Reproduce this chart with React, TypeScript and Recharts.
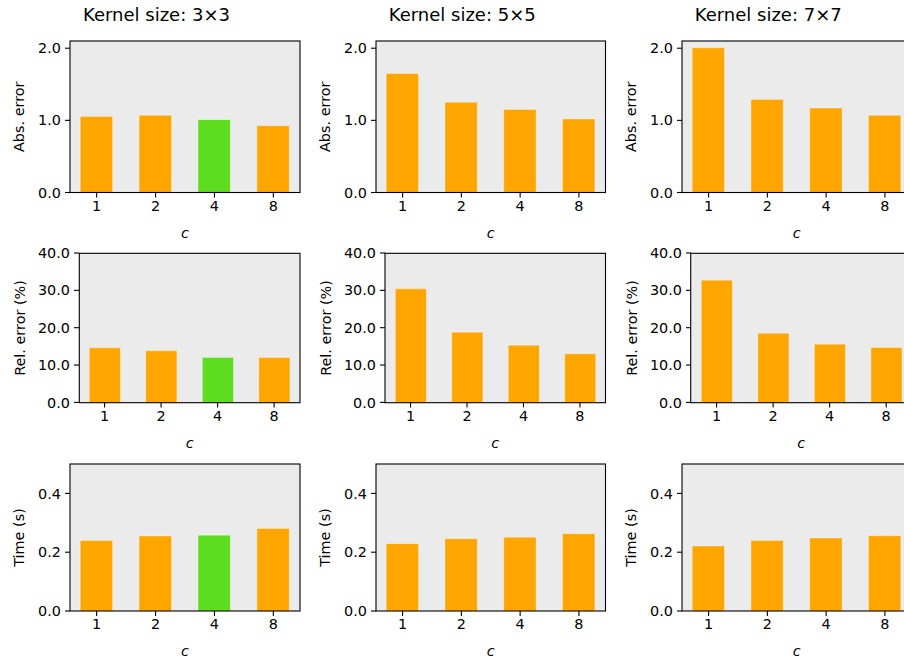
import React from 'react';
import { BarChart, Bar, XAxis, YAxis, CartesianGrid, Cell } from 'recharts';

// ---------- data ----------
const CATEGORIES = ['1', '2', '4', '8'];
const KERNELS = ['3×3', '5×5', '7×7'];
const HIGHLIGHT = ['4', null, null];

const ABS_3 = [1.055, 1.07, 1.01, 0.925];
const ABS_5 = [1.65, 1.25, 1.15, 1.02];
const ABS_7 = [2.005, 1.29, 1.17, 1.07];

const REL_3 = [14.6, 13.8, 12.0, 12.0];
const REL_5 = [30.4, 18.8, 15.3, 13.0];
const REL_7 = [32.7, 18.5, 15.6, 14.7];

const TIME_3 = [0.24, 0.255, 0.258, 0.281];
const TIME_5 = [0.229, 0.246, 0.251, 0.263];
const TIME_7 = [0.221, 0.24, 0.248, 0.256];

const ROW_LABELS = ['Abs. error', 'Rel. error (%)', 'Time (s)'];
const ROW_DOMAINS: [number, number][] = [[0, 2.1], [0, 40], [0, 0.5]];
const ROW_TICKS = [[0, 1, 2], [0, 10, 20, 30, 40], [0, 0.2, 0.4]];
const ROW_SERIES = [
  [ABS_3, ABS_5, ABS_7],
  [REL_3, REL_5, REL_7],
  [TIME_3, TIME_5, TIME_7],
];

// ---------- layout / style ----------
const FONT = '"DejaVu Sans", sans-serif';
const FS = 14.4;
const ORANGE = '#FFA500';
const GREEN = '#5EDC1F';
const BG = '#EBEBEB';
const XDOM: [number, number] = [-0.4525, 3.4525];
const XTICKS = [0, 1, 2, 3];

const ROW_LEFT = [
  [70, 376, 682],
  [79.3, 385, 690.7],
  [70, 376, 682],
];
const COL_RIGHT = [300, 605.5, 911.5];
const ROW_TOP = [41, 253.3, 464];
const ROW_BOTTOM = [192.5, 402.7, 611];
const YLABEL_GAP = [51, 59, 51];

type PanelProps = {
  values: number[];
  highlight: string | null;
  domain: [number, number];
  ticks: number[];
  left: number;
  right: number;
  top: number;
  bottom: number;
};

function Panel({ values, highlight, domain, ticks, left, right, top, bottom }: PanelProps) {
  const YW = 70;
  const TM = 14;
  const RM = 6;
  const XH = 40;
  const plotW = right - left;
  const plotH = bottom - top;
  const data = CATEGORIES.map((c, i) => ({ idx: i, c, v: values[i] }));
  const barSize = (0.55 * plotW) / (XDOM[1] - XDOM[0]);
  const tickStyle = { fill: '#000', fontSize: FS, fontFamily: FONT };
  return (
    <div style={{ position: 'absolute', left: left - YW, top: top - TM }}>
      <BarChart
        width={YW + plotW + RM}
        height={TM + plotH + XH}
        data={data}
        margin={{ top: TM, right: RM, bottom: 0, left: 0 }}
      >
        <CartesianGrid fill={BG} horizontal={false} vertical={false} stroke="none" />
        <XAxis
          dataKey="idx"
          type="number"
          domain={XDOM}
          allowDataOverflow
          ticks={XTICKS}
          interval={0}
          tickFormatter={(i: number) => CATEGORIES[i]}
          height={XH}
          tickSize={5}
          tickMargin={3}
          axisLine={false}
          tickLine={{ stroke: '#000', strokeWidth: 1.1 }}
          tick={tickStyle}
        />
        <YAxis
          type="number"
          domain={domain}
          allowDataOverflow
          ticks={ticks}
          interval={0}
          tickFormatter={(v: number) => v.toFixed(1)}
          width={YW}
          tickSize={5}
          tickMargin={4}
          axisLine={false}
          tickLine={{ stroke: '#000', strokeWidth: 1.1 }}
          tick={tickStyle}
        />
        <Bar dataKey="v" barSize={barSize} isAnimationActive={false}>
          {data.map((d) => (
            <Cell
              key={d.c}
              fill={d.c === highlight ? GREEN : ORANGE}
              stroke="rgba(255,255,255,0.35)"
              strokeWidth={1}
            />
          ))}
        </Bar>
      </BarChart>
    </div>
  );
}

export default function App() {
  const panels: React.ReactNode[] = [];
  const overlay: React.ReactNode[] = [];
  for (let r = 0; r < 3; r++) {
    for (let c = 0; c < 3; c++) {
      const left = ROW_LEFT[r][c];
      const right = COL_RIGHT[c];
      const top = ROW_TOP[r];
      const bottom = ROW_BOTTOM[r];
      panels.push(
        <Panel
          key={`p${r}${c}`}
          values={ROW_SERIES[r][c]}
          highlight={HIGHLIGHT[c]}
          domain={ROW_DOMAINS[r]}
          ticks={ROW_TICKS[r]}
          left={left}
          right={right}
          top={top}
          bottom={bottom}
        />
      );
      overlay.push(
        <rect
          key={`f${r}${c}`}
          x={left}
          y={top}
          width={right - left}
          height={bottom - top}
          fill="none"
          stroke="#000"
          strokeWidth={1.1}
        />
      );
      const yx = left - YLABEL_GAP[r];
      const yy = (top + bottom) / 2;
      overlay.push(
        <text
          key={`yl${r}${c}`}
          x={yx}
          y={yy}
          dy="0.36em"
          textAnchor="middle"
          transform={`rotate(-90 ${yx} ${yy})`}
          fontSize={FS}
          fontFamily={FONT}
          fill="#000"
        >
          {ROW_LABELS[r]}
        </text>
      );
      overlay.push(
        <text
          key={`xl${r}${c}`}
          x={(left + right) / 2}
          y={bottom + 45}
          textAnchor="middle"
          fontSize={FS}
          fontStyle="italic"
          fontFamily={FONT}
          fill="#000"
        >
          c
        </text>
      );
    }
  }
  for (let c = 0; c < 3; c++) {
    const cx = (ROW_LEFT[0][c] - 57 + COL_RIGHT[c]) / 2;
    overlay.push(
      <text
        key={`t${c}`}
        x={cx}
        y={21}
        textAnchor="middle"
        fontSize={18}
        fontFamily={FONT}
        fill="#000"
      >
        {`Kernel size: ${KERNELS[c]}`}
      </text>
    );
  }
  return (
    <div
      style={{
        position: 'absolute',
        left: 0,
        top: 0,
        width: 904,
        height: 664,
        overflow: 'hidden',
        background: '#fff',
      }}
    >
      {panels}
      <svg
        width={904}
        height={664}
        style={{ position: 'absolute', left: 0, top: 0, pointerEvents: 'none', overflow: 'hidden' }}
      >
        {overlay}
      </svg>
    </div>
  );
}
